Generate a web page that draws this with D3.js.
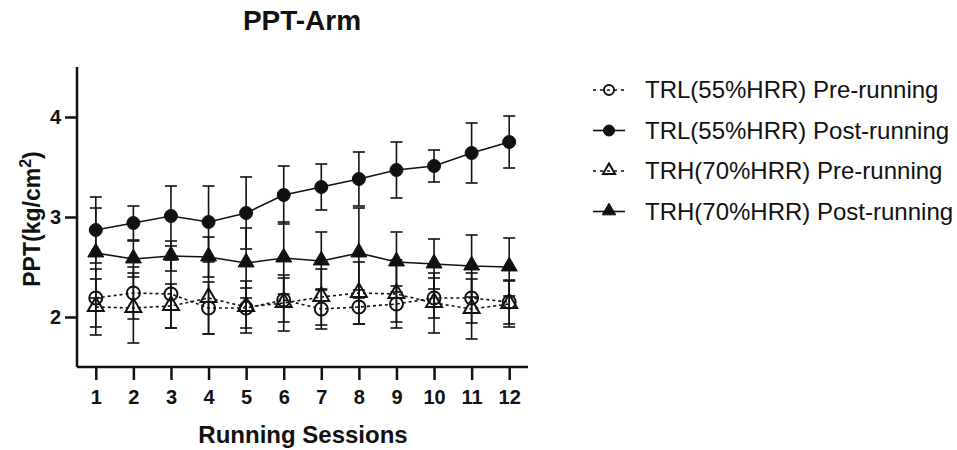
<!DOCTYPE html>
<html>
<head>
<meta charset="utf-8">
<script src="https://cdn.jsdelivr.net/npm/d3@7"></script>
<style>
  body { margin: 0; background: #fff; }
  text { font-family: "Liberation Sans", Arial, sans-serif; fill: #111; }
</style>
</head>
<body>
<div id="chart"></div>
<script>
// data (mean and SD per session)
var sessions = [1, 2, 3, 4, 5, 6, 7, 8, 9, 10, 11, 12];
var yTicks = [2, 3, 4];

var trlPre = [2.19, 2.24, 2.23, 2.09, 2.09, 2.17, 2.08, 2.10, 2.13, 2.19, 2.19, 2.15];
var trlPreSd = [0.29, 0.26, 0.34, 0.26, 0.20, 0.22, 0.20, 0.17, 0.18, 0.20, 0.25, 0.22];
var trlPost = [2.87, 2.94, 3.01, 2.95, 3.04, 3.22, 3.30, 3.38, 3.47, 3.51, 3.64, 3.75];
var trlPostSd = [0.33, 0.17, 0.30, 0.36, 0.36, 0.29, 0.23, 0.27, 0.28, 0.16, 0.30, 0.26];
var trhPre = [2.10, 2.09, 2.11, 2.19, 2.10, 2.14, 2.20, 2.24, 2.23, 2.14, 2.08, 2.13];
var trhPreSd = [0.28, 0.35, 0.22, 0.36, 0.26, 0.28, 0.28, 0.31, 0.34, 0.30, 0.30, 0.23];
var trhPost = [2.64, 2.58, 2.61, 2.60, 2.54, 2.59, 2.56, 2.64, 2.55, 2.53, 2.51, 2.50];
var trhPostSd = [0.45, 0.18, 0.15, 0.20, 0.35, 0.36, 0.29, 0.45, 0.30, 0.25, 0.31, 0.29];

var seriesNames = [
  "TRL(55%HRR) Pre-running",
  "TRL(55%HRR) Post-running",
  "TRH(70%HRR) Pre-running",
  "TRH(70%HRR) Post-running"
];

var series = [
  { name: seriesNames[0], mean: trlPre, sd: trlPreSd, shape: "circle", filled: false, dash: "3,3" },
  { name: seriesNames[1], mean: trlPost, sd: trlPostSd, shape: "circle", filled: true, dash: null },
  { name: seriesNames[2], mean: trhPre, sd: trhPreSd, shape: "triangle", filled: false, dash: "3,3" },
  { name: seriesNames[3], mean: trhPost, sd: trhPostSd, shape: "triangle", filled: true, dash: null }
];

var ink = "#111";
var W = 957, H = 450;
var margin = { top: 67, left: 77 };
var width = 451, height = 300;

var svg = d3.select("#chart").append("svg")
  .attr("width", W)
  .attr("height", H);

var g = svg.append("g")
  .attr("transform", "translate(" + margin.left + "," + margin.top + ")");

var x = d3.scaleLinear().domain([0.5, 12.5]).range([0, width]);
var y = d3.scaleLinear().domain([1.5, 4.5]).range([height, 0]);

// axes
var xAxis = g.append("g")
  .attr("transform", "translate(0," + height + ")")
  .call(d3.axisBottom(x).tickValues(sessions).tickSize(13).tickPadding(10).tickFormat(d3.format("d")));
var yAxis = g.append("g")
  .call(d3.axisLeft(y).tickValues(yTicks).tickSize(12).tickPadding(4).tickFormat(d3.format("d")));

[xAxis, yAxis].forEach(function (a) {
  a.select(".domain").attr("stroke", ink).attr("stroke-width", 2.5);
  a.selectAll(".tick line").attr("stroke", ink).attr("stroke-width", 2.5);
  a.selectAll(".tick text")
    .style("font-family", "'Liberation Sans', Arial, sans-serif")
    .style("font-size", "20px")
    .style("font-weight", "bold")
    .attr("fill", ink);
});
// domain without outer ticks
xAxis.select(".domain").attr("d", "M0,0H" + width);
yAxis.select(".domain").attr("d", "M0," + height + "V0");

var symTri = d3.symbol().type(d3.symbolTriangle);

function drawMarker(sel, s, cx, cy, r) {
  if (s.shape === "circle") {
    sel.append("circle")
      .attr("cx", cx).attr("cy", cy).attr("r", r)
      .attr("fill", s.filled ? ink : "none")
      .attr("stroke", ink)
      .attr("stroke-width", s.filled ? 1 : 2);
  } else {
    sel.append("path")
      .attr("d", symTri.size(r * r * 2.6)())
      .attr("transform", "translate(" + cx + "," + (cy - r * 0.1) + ")")
      .attr("fill", s.filled ? ink : "none")
      .attr("stroke", ink)
      .attr("stroke-width", s.filled ? 1 : 2);
  }
}

// error bars
series.forEach(function (s) {
  var eb = g.append("g").attr("stroke", ink).attr("stroke-width", 1.6);
  sessions.forEach(function (d, i) {
    var hi = y(s.mean[i] + s.sd[i]), lo = y(s.mean[i] - s.sd[i]), cx = x(d);
    eb.append("line").attr("x1", cx).attr("x2", cx).attr("y1", hi).attr("y2", lo);
    eb.append("line").attr("x1", cx - 6).attr("x2", cx + 6).attr("y1", hi).attr("y2", hi);
    eb.append("line").attr("x1", cx - 6).attr("x2", cx + 6).attr("y1", lo).attr("y2", lo);
  });
});

// lines
var line = d3.line()
  .x(function (d, i) { return x(sessions[i]); })
  .y(function (d) { return y(d); });

series.forEach(function (s) {
  g.append("path")
    .datum(s.mean)
    .attr("d", line)
    .attr("fill", "none")
    .attr("stroke", ink)
    .attr("stroke-width", 1.6)
    .attr("stroke-dasharray", s.dash);
});

// markers
series.forEach(function (s) {
  var mg = g.append("g");
  sessions.forEach(function (d, i) {
    drawMarker(mg, s, x(d), y(s.mean[i]), 6.5);
  });
});

// title and axis labels
svg.append("text")
  .attr("x", 302).attr("y", 30)
  .attr("text-anchor", "middle")
  .style("font-size", "28px").style("font-weight", "bold")
  .text("PPT-Arm");

svg.append("text")
  .attr("x", 303).attr("y", 443)
  .attr("text-anchor", "middle")
  .style("font-size", "24px").style("font-weight", "bold")
  .text("Running Sessions");

var yl = svg.append("text")
  .attr("transform", "translate(40,219) rotate(-90)")
  .attr("text-anchor", "middle")
  .style("font-size", "23px").style("font-weight", "bold");
yl.append("tspan").text("PPT(kg/cm");
yl.append("tspan").attr("dy", -9).style("font-size", "16px").text("2");
yl.append("tspan").attr("dy", 9).text(")");

// legend
var legend = svg.append("g").attr("transform", "translate(593,90)");
series.forEach(function (s, i) {
  var row = legend.append("g").attr("transform", "translate(0," + i * 40.5 + ")");
  row.append("line")
    .attr("x1", 0).attr("x2", 32).attr("y1", 0).attr("y2", 0)
    .attr("stroke", ink).attr("stroke-width", 1.6)
    .attr("stroke-dasharray", s.dash ? "3,4" : null);
  drawMarker(row, s, 16, 0, s.filled ? 5.5 : 5);
  row.append("text")
    .attr("x", 52).attr("y", 0).attr("dy", "0.35em")
    .style("font-size", "24px")
    .text(s.name);
});
</script>
</body>
</html>
